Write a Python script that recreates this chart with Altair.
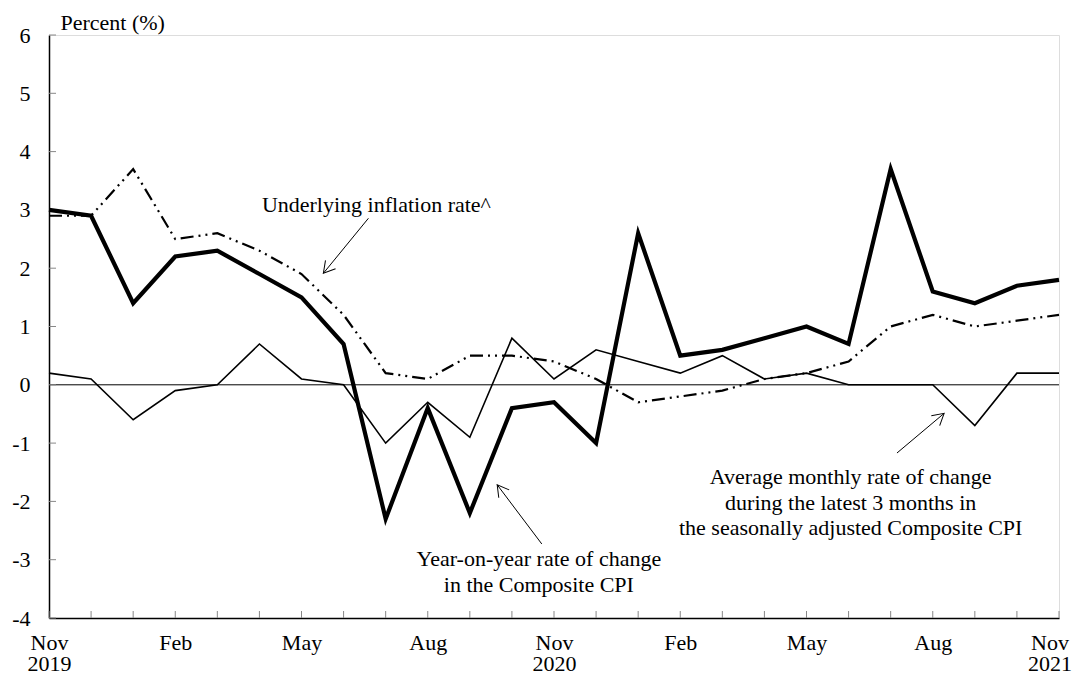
import json
import math
import altair as alt
import pandas as pd

# ---------------- data ----------------
month_index = list(range(25))  # Nov 2019 ... Nov 2021
composite = [3.0, 2.9, 1.4, 2.2, 2.3, 1.9, 1.5, 0.7, -2.3, -0.4, -2.2, -0.4, -0.3,
             -1.0, 2.6, 0.5, 0.6, 0.8, 1.0, 0.7, 3.7, 1.6, 1.4, 1.7, 1.8]
underlying = [2.9, 2.9, 3.7, 2.5, 2.6, 2.3, 1.9, 1.2, 0.2, 0.1, 0.5, 0.5, 0.4,
              0.1, -0.3, -0.2, -0.1, 0.1, 0.2, 0.4, 1.0, 1.2, 1.0, 1.1, 1.2]
avg3m = [0.2, 0.1, -0.6, -0.1, 0.0, 0.7, 0.1, 0.0, -1.0, -0.3, -0.9, 0.8, 0.1,
         0.6, 0.4, 0.2, 0.5, 0.1, 0.2, 0.0, 0.0, 0.0, -0.7, 0.2, 0.2]

xlabel_values = [0, 3, 6, 9, 12, 15, 18, 21]
xlabel_text = ["Nov|2019", "Feb", "May", "Aug", "Nov|2020", "Feb", "May", "Aug"]
last_label_x = [24]
last_label_text = ["Nov\n2021"]
ytick_values = list(range(-4, 7))

ann_text = ["Underlying inflation rate^",
            "Year-on-year rate of change\nin the Composite CPI",
            "Average monthly rate of change\nduring the latest 3 months in\nthe seasonally adjusted Composite CPI"]
ann_x = [7.78, 11.64, 19.05]
ann_y = [2.97, -3.11, -1.71]

arrow_x_tail = [7.59, 11.71, 20.15]
arrow_y_tail = [2.856, -2.73, -1.17]
arrow_x_tip = [6.52, 10.65, 21.27]
arrow_y_tip = [1.913, -1.715, -0.49]

# ---------------- layout ----------------
W, H = 1010, 583
XMIN, XMAX, YMIN, YMAX = 0, 24, -4, 6
FONT = "Liberation Serif"
FS = 22
LAB_PAD = 14.5
LAB_LH = 21

px_x = W / (XMAX - XMIN)
px_y = H / (YMAX - YMIN)
arrow_angle = []
for xt, yt, xh, yh in zip(arrow_x_tail, arrow_y_tail, arrow_x_tip, arrow_y_tip):
    dx = (xh - xt) * px_x
    dy = -(yh - yt) * px_y
    arrow_angle.append(math.degrees(math.atan2(dx, -dy)) % 360)

lines_df = pd.DataFrame({"m": month_index, "composite": composite,
                         "underlying": underlying, "avg3m": avg3m})
ann_df = pd.DataFrame({"x": ann_x, "y": ann_y, "t": ann_text})
arrow_df = pd.DataFrame({"x": arrow_x_tail, "y": arrow_y_tail,
                         "x2": arrow_x_tip, "y2": arrow_y_tip, "a": arrow_angle})
xt_df = pd.DataFrame({"m": month_index})
yt_df = pd.DataFrame({"v": ytick_values})
zero_df = pd.DataFrame({"v": [0]})
last_df = pd.DataFrame({"m": last_label_x, "t": last_label_text})

xscale = alt.Scale(domain=[XMIN, XMAX], nice=False, zero=False)
yscale = alt.Scale(domain=[YMIN, YMAX], nice=False, zero=False)

label_expr = "split(" + json.dumps(xlabel_text) + "[round(datum.value/3)], '|')"

xaxis = alt.Axis(values=xlabel_values, ticks=False, tickSize=0, grid=False,
                 domainColor="black", domainWidth=1.5, labelExpr=label_expr,
                 labelFont=FONT, labelFontSize=FS, labelColor="black",
                 labelPadding=LAB_PAD, labelBaseline="top", labelLineHeight=LAB_LH,
                 labelFlush=False, labelOverlap=False, title=None)
yaxis = alt.Axis(values=ytick_values, ticks=False, tickSize=0, grid=False,
                 domainColor="black", domainWidth=1.5,
                 labelExpr="datum.value + ''", labelFont=FONT, labelFontSize=FS,
                 labelColor="black", labelPadding=19, labelFlush=False,
                 title="Percent (%)", titleAngle=0, titleX=11, titleY=-5.5,
                 titleAlign="left", titleBaseline="alphabetic", titleFont=FONT,
                 titleFontSize=FS, titleFontWeight="normal", titleColor="black")


def X(f):
    return alt.X(f, type="quantitative", scale=xscale, axis=xaxis)


def Y(f):
    return alt.Y(f, type="quantitative", scale=yscale, axis=yaxis)


zero = alt.Chart(zero_df).mark_rule(color="black", strokeWidth=1).encode(y=Y("v"))

xticks = alt.Chart(xt_df).mark_rule(color="#888888", strokeWidth=1).encode(
    x=X("m"), y=alt.value(H), y2=alt.value(H - 7))
yticks = alt.Chart(yt_df).mark_rule(color="#888888", strokeWidth=1).encode(
    y=Y("v"), x=alt.value(0), x2=alt.value(7))

l_under = alt.Chart(lines_df).mark_line(color="black", strokeWidth=2.2,
                                        strokeDash=[13, 5, 2, 5, 2, 5]).encode(
    x=X("m"), y=Y("underlying"))
l_avg = alt.Chart(lines_df).mark_line(color="black", strokeWidth=1.6).encode(
    x=X("m"), y=Y("avg3m"))
l_comp = alt.Chart(lines_df).mark_line(color="black", strokeWidth=4.2).encode(
    x=X("m"), y=Y("composite"))

texts = alt.Chart(ann_df).mark_text(font=FONT, fontSize=FS, color="black",
                                    align="center", baseline="alphabetic",
                                    lineBreak="\n", lineHeight=25.5).encode(
    x=X("x"), y=Y("y"), text="t:N")

last_lab = alt.Chart(last_df).mark_text(font=FONT, fontSize=FS, color="black",
                                        align="center", baseline="alphabetic",
                                        lineBreak="\n", lineHeight=LAB_LH, dx=-9).encode(
    x=X("m"), y=alt.value(H + LAB_PAD + 0.79 * FS), text="t:N")

shafts = alt.Chart(arrow_df).mark_rule(color="black", strokeWidth=1).encode(
    x=X("x"), y=Y("y"), x2="x2", y2="y2")
heads = alt.Chart(arrow_df).mark_point(
    shape="M -0.5 0.866 L 0 0 L 0.5 0.866", filled=False, color="black",
    strokeWidth=1, size=676, opacity=1).encode(
    x=X("x2"), y=Y("y2"), angle=alt.Angle("a:Q", scale=None))

chart = alt.layer(zero, xticks, yticks, l_under, l_avg, l_comp, texts, last_lab,
                  shafts, heads).properties(
    width=W, height=H,
    autosize=alt.AutoSizeParams(type="none"),
    padding={"left": 41, "top": 27, "right": 14, "bottom": 55},
).configure_view(stroke="#888888", strokeWidth=1).configure(background="white")

chart.save("out.html", embed_options={"renderer": "svg", "actions": False})
